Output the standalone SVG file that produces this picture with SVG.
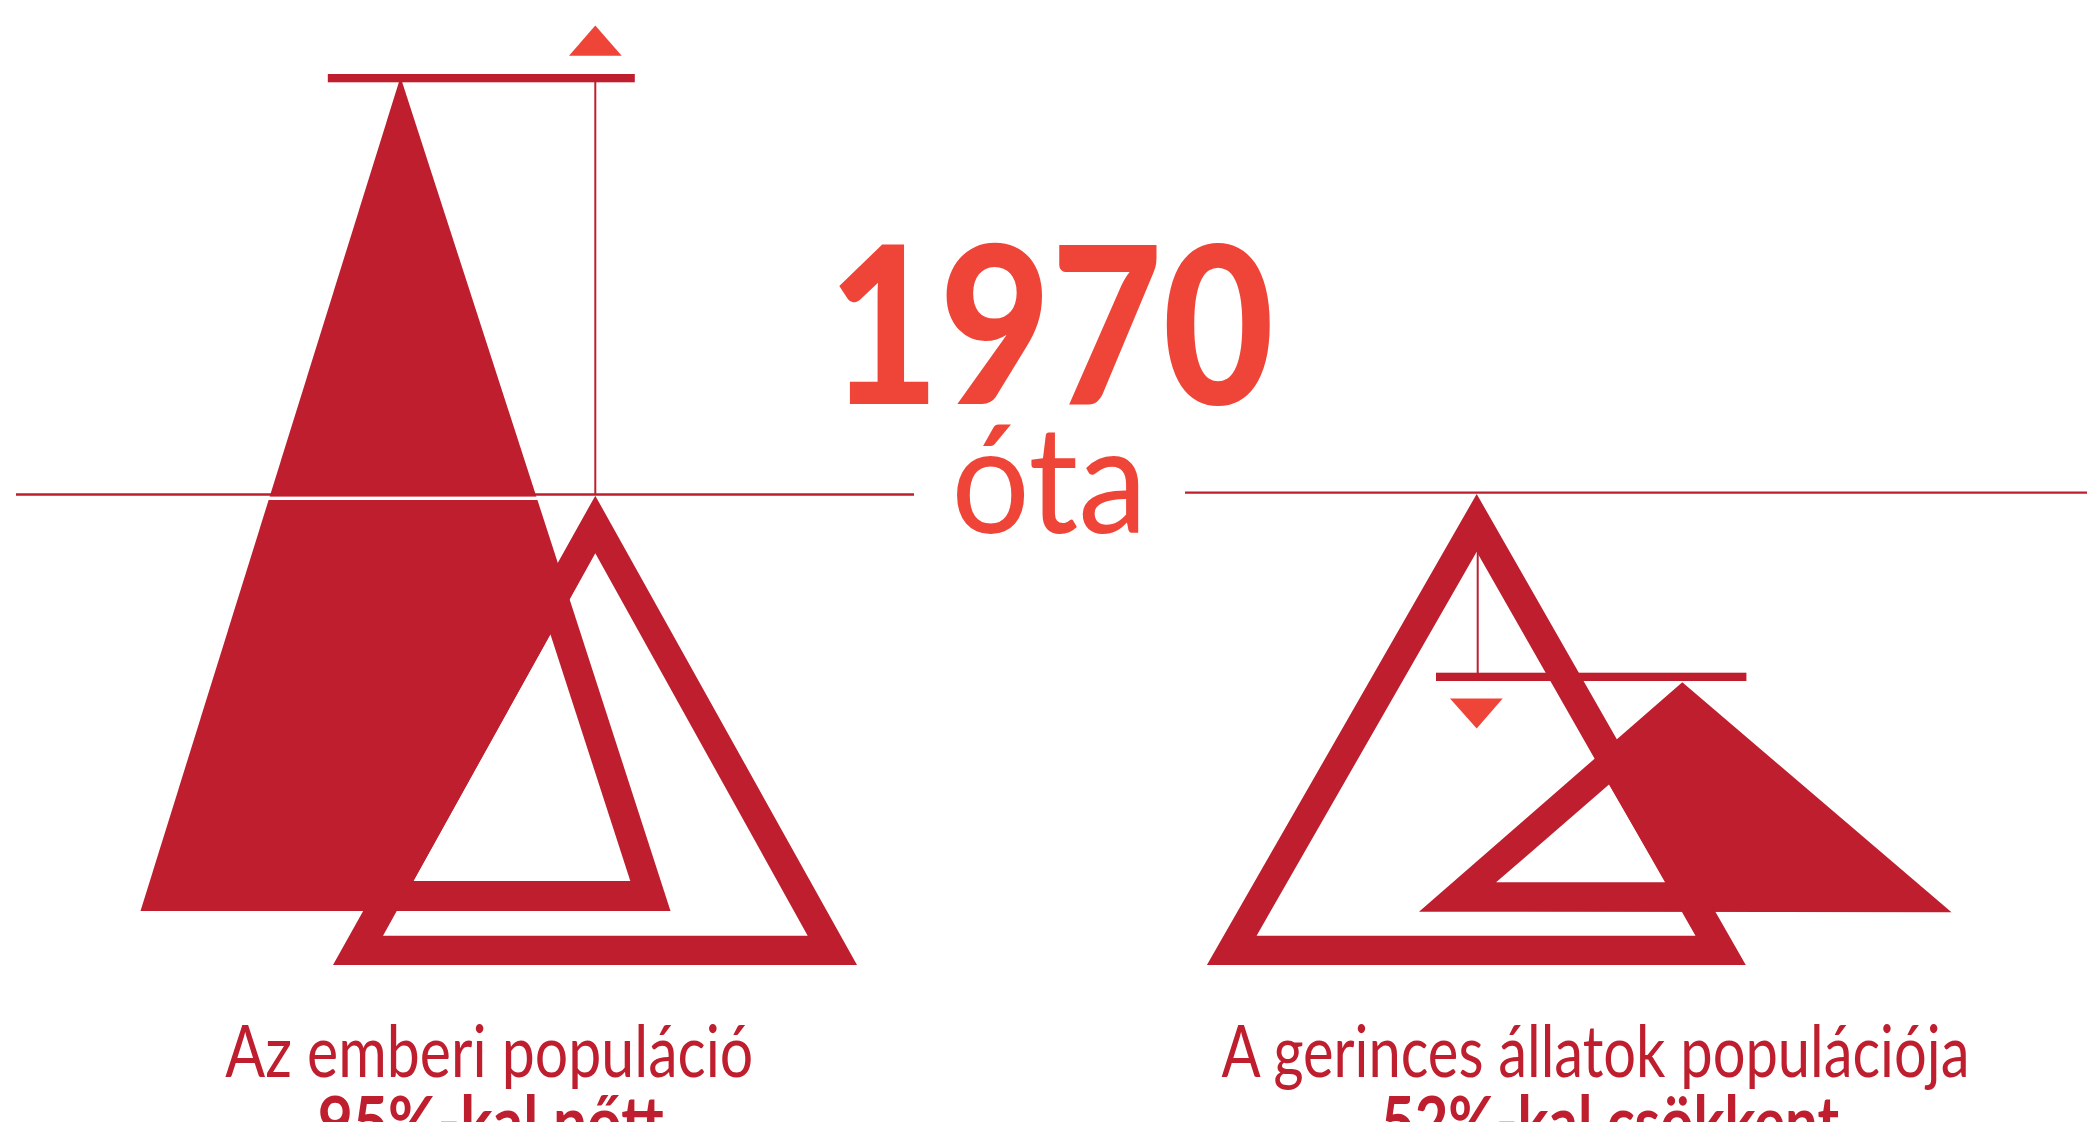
<svg xmlns="http://www.w3.org/2000/svg" width="2089" height="1122" viewBox="0 0 2089 1122">
<style>
.red{fill:#BE1E2D}
.hole{fill:#FFFFFF}
.accent{fill:#EF4538}
.rule{stroke:#BE1E2D;stroke-width:2.4;fill:none}
.stem{stroke:#BE1E2D;stroke-width:2;fill:none}
.year{font-family:Lato,"Noto Sans",sans-serif;font-weight:900;font-size:219px;fill:#EF4538}
.since{font-family:Lato,"Noto Sans",sans-serif;font-weight:400;font-size:150px;fill:#EF4538}
.cap1{font-family:Lato,"Open Sans",sans-serif;font-weight:400;font-size:72px;fill:#BE1E2D}
.cap2{font-family:Lato,"Open Sans",sans-serif;font-weight:700;font-size:70px;fill:#BE1E2D}
</style>
<rect width="2089" height="1122" fill="#FFFFFF"/>
<g id="baselines">
<line class="rule" x1="16" y1="494.5" x2="914" y2="494.5"/>
<line class="rule" x1="1185" y1="492.6" x2="2087" y2="492.6"/>
</g>
<g id="human-population">
<polygon class="red" points="400.5,77 140.5,911 670.5,911"/>
<rect class="hole" x="250" y="496.6" width="300" height="3.4"/>
<polygon class="hole" points="550.4,634.2 413.4,881 630.3,881"/>
<path class="red" fill-rule="evenodd" d="M595.3,495.7 L333,965 L857,965 Z M595.3,553.3 L383,935.7 L807.7,935.7 Z"/>
<rect class="red" x="327.8" y="74" width="307" height="8.3"/>
<line class="stem" x1="595.3" y1="82" x2="595.3" y2="495"/>
<polygon class="accent" points="595.3,25.5 569,55.7 621.7,55.7"/>
</g>
<g id="vertebrate-population">
<polygon class="red" points="1682.3,682.3 1419,911.7 1951.5,912.3"/>
<polygon class="hole" points="1609,784.5 1496.1,882.3 1665.8,882.3"/>
<path class="red" fill-rule="evenodd" d="M1476.7,494 L1206.9,965 L1745.8,965 Z M1476.7,551.7 L1256.6,935.7 L1695.5,935.7 Z"/>
<rect class="red" x="1436" y="672.7" width="310.4" height="8.3"/>
<line class="stem" x1="1477.7" y1="552" x2="1477.7" y2="673"/>
<polygon class="accent" points="1450,698.5 1502.7,698.5 1476.7,728.5"/>
</g>
<g id="title">
<text class="year" x="1051" y="403.7" text-anchor="middle" textLength="446" lengthAdjust="spacingAndGlyphs">1970</text>
<text class="since" x="1049.2" y="533.3" text-anchor="middle" textLength="196" lengthAdjust="spacingAndGlyphs">óta</text>
</g>
<g id="caption-human">
<text class="cap1" x="489.3" y="1077.3" text-anchor="middle" textLength="528" lengthAdjust="spacingAndGlyphs">Az emberi populáció</text>
<text class="cap2" x="490.8" y="1147" text-anchor="middle" textLength="346" lengthAdjust="spacingAndGlyphs">95%-kal nőtt</text>
</g>
<g id="caption-vertebrate">
<text class="cap1" x="1595.4" y="1077.3" text-anchor="middle" textLength="748" lengthAdjust="spacingAndGlyphs">A gerinces állatok populációja</text>
<text class="cap2" x="1610" y="1147" text-anchor="middle" textLength="458" lengthAdjust="spacingAndGlyphs">52%-kal csökkent</text>
</g>
</svg>
